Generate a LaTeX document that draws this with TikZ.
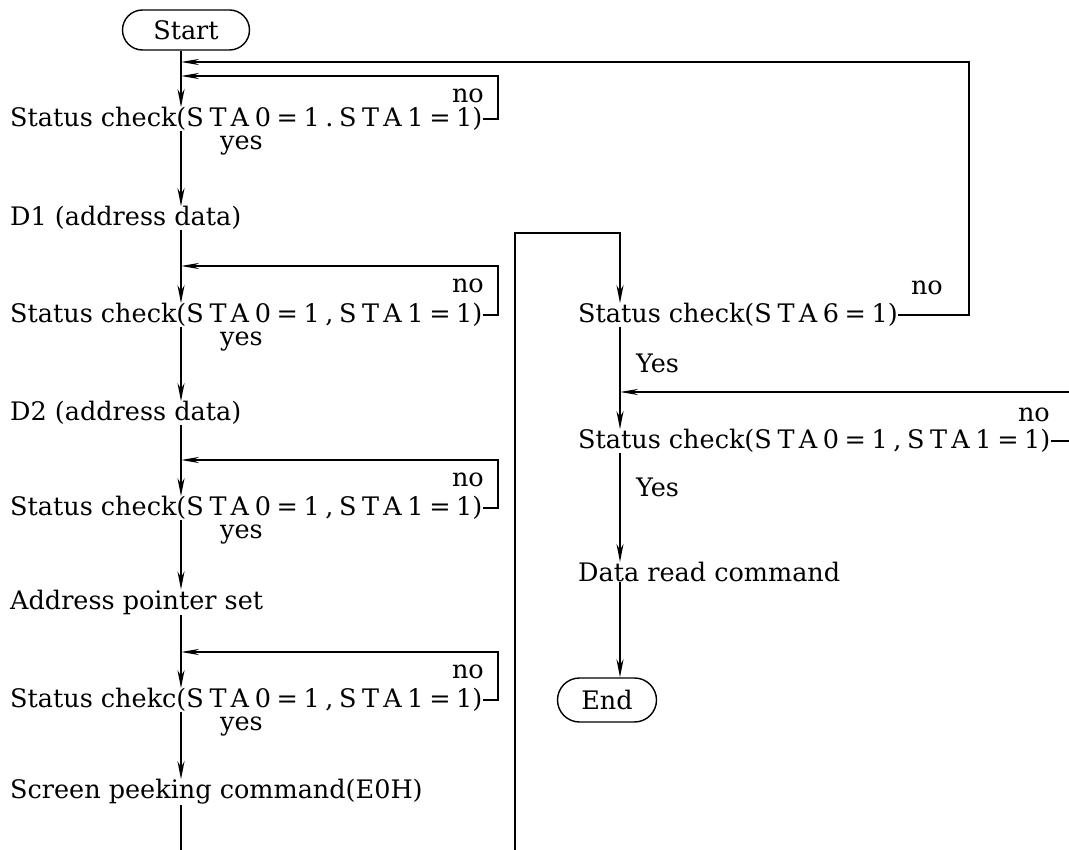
\documentclass[tikz,border=0pt]{standalone}
\usepackage{fontspec}
\setmainfont{DejaVu Serif}
\newfontfamily\widefont[LetterSpace=22]{DejaVu Serif}
\newcommand\spaced[1]{{\widefont #1}}
\usetikzlibrary{arrows.meta,shapes.misc}

\tikzset{
  txt/.style={anchor=west, inner sep=0pt, font=\fontsize{25.5}{30}\selectfont},
  lbl/.style={inner sep=0pt, font=\fontsize{25.5}{30}\selectfont},
  term/.style={draw, line width=1.4pt, rounded rectangle, minimum height=40pt,
    inner sep=0pt, font=\fontsize{25.5}{30}\selectfont},
  flow/.style={line width=1.7pt, -{Stealth[length=18pt,width=7pt]}},
  back/.style={line width=1.7pt, -{Stealth[length=18pt,width=6pt]}},
  wire/.style={line width=1.7pt},
}

\begin{document}
\begin{tikzpicture}[x=1pt,y=-1pt]
\useasboundingbox (0,0) rectangle (1069,850);
% guide lines
\coordinate (mx) at (181,0);
\coordinate (lx) at (498,0);
\coordinate (rmx) at (620,0);
\coordinate (sx) at (969,0);
\coordinate (ex) at (1069,0);
%
% left column
\node[term, minimum width=127pt] (start) at (186,30) {Start};
\node[txt] (sc1) at (10,119) {Status check(\spaced{STA0=1.STA1=1})};
\node[txt] (d1) at (10,218) {D1 (address data)};
\node[txt] (sc2) at (10,315) {Status check(\spaced{STA0=1,STA1=1})};
\node[txt] (d2) at (10,413) {D2 (address data)};
\node[txt] (sc3) at (10,508) {Status check(\spaced{STA0=1,STA1=1})};
\node[txt] (aps) at (10,602) {Address pointer set};
\node[txt] (sc4) at (10,700) {Status chekc(\spaced{STA0=1,STA1=1})};
\node[txt] (spc) at (10,792) {Screen peeking command(E0H)};
%
\node[lbl, anchor=east] (no1) at (484,96) {no};
\node[lbl, anchor=east] (no2) at (484,286) {no};
\node[lbl, anchor=east] (no3) at (484,480) {no};
\node[lbl, anchor=east] (no4) at (484,672) {no};
\node[lbl, anchor=west] (yes1) at (220,146) {yes};
\node[lbl, anchor=west] (yes2) at (220,342) {yes};
\node[lbl, anchor=west] (yes3) at (220,535) {yes};
\node[lbl, anchor=west] (yes4) at (220,727) {yes};
%
\coordinate (j0) at (181,62);
\coordinate (j1) at (181,76);
\coordinate (j2) at (181,266);
\coordinate (j3) at (181,460);
\coordinate (j4) at (181,652);
\coordinate (bl) at (181,850);
%
\draw[flow] (start.south -| mx) -- (sc1.north -| mx);
\draw[flow] (sc1.south -| mx) -- (d1.north -| mx);
\draw[flow] (d1.south -| mx) -- (sc2.north -| mx);
\draw[flow] (sc2.south -| mx) -- (d2.north -| mx);
\draw[flow] (d2.south -| mx) -- (sc3.north -| mx);
\draw[flow] (sc3.south -| mx) -- (aps.north -| mx);
\draw[flow] (aps.south -| mx) -- (sc4.north -| mx);
\draw[flow] (sc4.south -| mx) -- (spc.north -| mx);
\draw[wire] (spc.south -| mx) -- (bl);
%
\draw[back] (sc1.east) -| (lx |- j1) -- (j1);
\draw[back] (sc2.east) -| (lx |- j2) -- (j2);
\draw[back] (sc3.east) -| (lx |- j3) -- (j3);
\draw[back] (sc4.east) -| (lx |- j4) -- (j4);
%
% right column
\node[txt] (sta6) at (578,315) {Status check(\spaced{STA6=1})};
\node[txt] (scr) at (578,441) {Status check(\spaced{STA0=1,STA1=1})};
\node[txt] (drc) at (578,572) {Data read command};
\node[term, minimum width=99pt, minimum height=44pt] (end) at (607,700) {End};
%
\node[lbl, anchor=east] (no5) at (943,288) {no};
\node[lbl, anchor=east] (no6) at (1050,415) {no};
\node[lbl, anchor=west] (yes5) at (636,363) {Yes};
\node[lbl, anchor=west] (yes6) at (636,487) {Yes};
%
\coordinate (br) at (515,850);
\coordinate (tr) at (515,233);
\coordinate (jr) at (620,392);
%
\draw[flow] (br) -- (tr) -- (tr -| rmx) -- (sta6.north -| rmx);
\draw[flow] (sta6.south -| rmx) -- (scr.north -| rmx);
\draw[flow] (scr.south -| rmx) -- (drc.north -| rmx);
\draw[flow] (drc.south -| rmx) -- (end.north -| rmx);
%
\draw[back] (sta6.east) -| (sx |- j0) -- (j0);
\draw[back] (ex |- jr) -- (jr);
\draw[wire] (scr.east) -- (ex |- scr.east);
\end{tikzpicture}
\end{document}
